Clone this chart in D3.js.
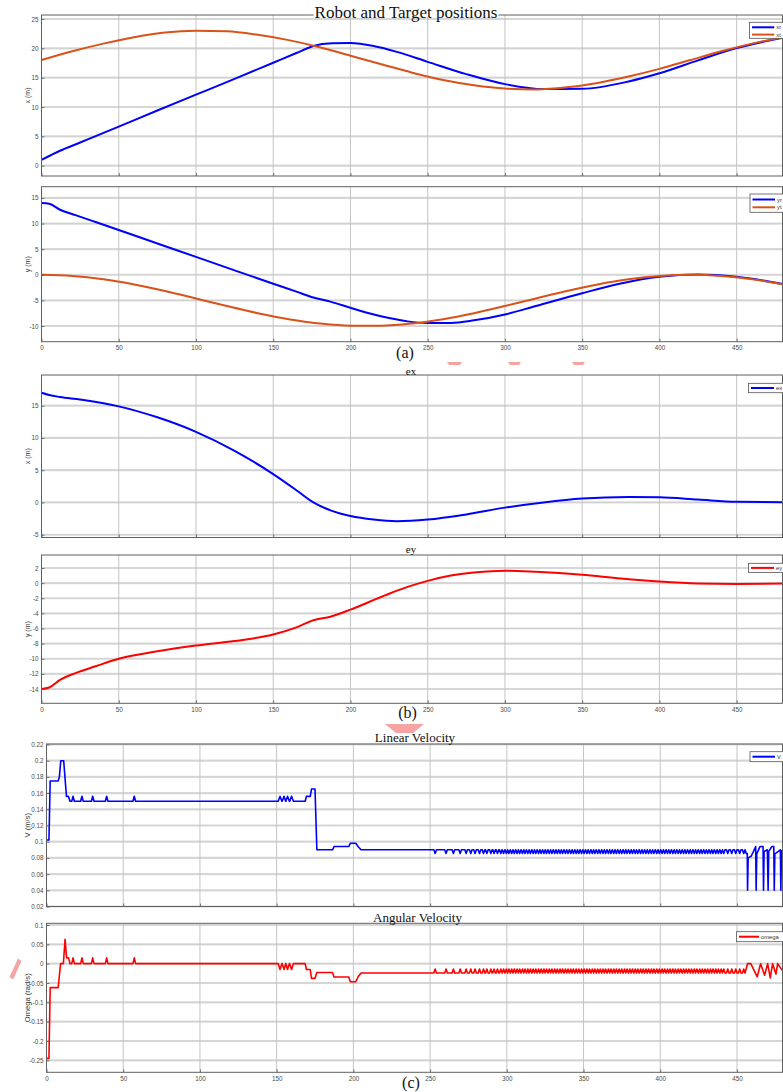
<!DOCTYPE html>
<html>
<head>
<meta charset="utf-8">
<script src="https://cdn.jsdelivr.net/npm/d3@7"></script>
<style>
  body { margin: 0; background: #fff; }
  svg { display: block; }
</style>
</head>
<body>
<svg id="fig" width="783" height="1092"></svg>
<script>
// ---------- readings: robot (r) and target (t) positions ----------
const xtTime   = [0, 20, 40, 60, 80, 100, 120, 140, 160, 180, 200, 220, 240, 260, 280, 300, 320, 340, 360, 380, 400, 420, 440, 460, 480];
const xtValues = [18.0, 19.5, 20.8, 21.9, 22.7, 23.0, 22.9, 22.3, 21.4, 20.2, 18.75, 17.3, 15.85, 14.6, 13.7, 13.15, 13.0, 13.35, 14.1, 15.2, 16.5, 18.0, 19.5, 20.8, 21.9];

const xrTime   = [0, 5, 12, 25, 50, 75, 100, 125, 150, 165, 176, 188, 200, 215, 230, 250, 275, 300, 325, 350, 380, 400, 425, 450, 480];
const xrValues = [1.0, 1.65, 2.55, 3.95, 6.65, 9.4, 12.1, 14.8, 17.55, 19.2, 20.4, 20.85, 20.9, 20.4, 19.4, 17.7, 15.6, 13.9, 13.05, 13.1, 14.35, 15.75, 17.95, 20.05, 21.8];

const ytTime   = [0, 20, 40, 60, 80, 100, 120, 140, 160, 180, 200, 220, 240, 260, 280, 300, 320, 340, 360, 380, 400, 420, 440, 460, 480];
const ytValues = [0.0, -0.22, -0.87, -1.88, -3.17, -4.63, -6.11, -7.5, -8.67, -9.51, -9.94, -9.94, -9.51, -8.67, -7.5, -6.11, -4.63, -3.17, -1.88, -0.87, -0.22, 0.0, -0.22, -0.87, -1.88];

const yrTime   = [0, 5, 12, 22, 35, 50, 75, 100, 125, 150, 165, 176, 187, 200, 212, 225, 237, 250, 265, 280, 300, 320, 350, 375, 400, 425, 450, 480];
const yrValues = [14.0, 13.85, 12.7, 11.65, 10.3, 8.75, 6.1, 3.5, 0.85, -1.75, -3.3, -4.45, -5.25, -6.45, -7.5, -8.45, -9.1, -9.4, -9.4, -8.9, -7.75, -6.1, -3.6, -1.7, -0.4, 0.05, -0.4, -1.8];

// ---------- readings: tracking errors ----------
const exTime   = [0, 5, 12, 25, 50, 75, 100, 125, 150, 165, 176, 188, 200, 215, 230, 250, 275, 300, 325, 350, 380, 400, 425, 450, 480];
const exValues = [17.0, 16.65, 16.35, 15.95, 14.9, 13.2, 10.95, 8.0, 4.4, 1.9, 0.0, -1.3, -2.1, -2.65, -2.9, -2.65, -1.85, -0.8, 0.0, 0.6, 0.85, 0.8, 0.45, 0.1, 0.05];

const eyTime   = [0, 5, 12, 22, 35, 50, 75, 100, 125, 150, 165, 176, 187, 200, 212, 225, 237, 250, 265, 280, 300, 320, 350, 375, 400, 425, 450, 480];
const eyValues = [-14.0, -13.8, -12.8, -11.9, -11.0, -10.0, -9.0, -8.25, -7.65, -6.8, -5.85, -4.9, -4.45, -3.5, -2.5, -1.4, -0.5, 0.3, 1.0, 1.4, 1.65, 1.5, 1.1, 0.6, 0.2, -0.05, -0.1, -0.05];

// ---------- readings: control inputs (step levels as [t, value]) ----------
const vSteps = [
  [0, 0.102], [1.6, 0.102], [2.4, 0.175], [7.6, 0.175], [8.4, 0.18], [9.3, 0.2], [11.2, 0.2],
  [13.0, 0.156], [14.3, 0.156], [15.3, 0.15], [168.6, 0.15], [169.4, 0.156], [171.9, 0.156],
  [172.7, 0.165], [175.0, 0.165], [176.2, 0.09], [186.4, 0.09], [187.4, 0.094], [197.0, 0.094],
  [198.0, 0.098], [201.6, 0.098], [203.0, 0.094], [205.0, 0.09], [455.3, 0.09], [456.0, 0.0855],
  [456.7, 0.0855], [456.9, 0.04], [457.3, 0.08], [459.2, 0.082], [460.8, 0.088], [462.2, 0.094],
  [462.5, 0.04], [462.9, 0.085], [465.0, 0.094], [467.0, 0.094], [467.3, 0.04], [467.7, 0.088],
  [469.8, 0.09], [470.3, 0.04], [470.7, 0.088], [472.8, 0.094], [474.0, 0.094], [474.3, 0.04],
  [474.7, 0.085], [477.0, 0.088], [478.3, 0.09], [478.6, 0.04], [479.0, 0.088], [480, 0.09]
];
const omegaSteps = [
  [0, -0.245], [1.6, -0.245], [2.4, -0.062], [7.6, -0.062], [9.2, 0], [11.0, 0], [12.1, 0.063],
  [13.1, 0.015], [14.4, 0.015], [15.3, 0], [168.6, 0], [169.4, -0.015], [171.9, -0.015],
  [172.7, -0.038], [175.0, -0.038], [176.2, -0.023], [186.4, -0.023], [187.4, -0.0345],
  [197.0, -0.0345], [198.0, -0.0466], [201.6, -0.0466], [203.0, -0.0345], [205.0, -0.024],
  [455.2, -0.024], [456.9, 0], [459.0, 0], [463.2, -0.034], [465.4, 0], [468.0, -0.03], [470.0, 0],
  [471.7, -0.037], [473.2, 0], [475.4, -0.027], [476.5, 0], [480, -0.02]
];
// short blips on top of the step levels
const earlyBlipTimes = [17.3, 23.1, 30.1, 39.2, 57.2];
const midBlipTimes   = [152.2, 154.8, 157.1, 159.7];
const chatterTimes = [
  253.3, 260.4, 265.2, 269.6, 273.5, 276.5, 279.3, 282.2, 284.8, 287.0, 289.6, 291.7, 293.9, 296.1, 297.9,
  299.7, 301.4, 303.2, 304.9, 306.7, 308.4, 310.2, 311.9, 313.7, 315.4, 317.2, 318.9, 320.7, 322.4, 324.2,
  325.9, 327.7, 329.4, 331.2, 332.9, 334.7, 336.4, 338.2, 339.9, 341.7, 343.4, 345.2, 346.9, 348.7, 350.4,
  352.2, 353.9, 355.7, 357.4, 359.2, 360.9, 362.7, 364.4, 366.2, 367.9, 369.7, 371.4, 373.2, 374.9, 376.7,
  378.4, 380.2, 381.9, 383.7, 385.4, 387.2, 388.9, 390.7, 392.4, 394.2, 395.9, 397.7, 399.4, 401.2, 402.9,
  404.7, 406.4, 408.2, 409.9, 411.7, 413.4, 415.2, 416.9, 418.7, 420.4, 422.2, 423.9, 425.7, 427.4, 429.2,
  430.9, 432.7, 434.4, 436.2, 437.9, 439.7, 441.4, 444.0, 446.6, 449.2, 451.8, 454.4
];
const vBlipLevels     = { early: 0.156, mid: 0.156, chatter: 0.0855 };
const omegaBlipLevels = { early: 0.015, mid: -0.015, chatter: -0.014 };

// ---------- axis ticks ----------
const timeTicks   = [0, 50, 100, 150, 200, 250, 300, 350, 400, 450];
const xPosTicks   = [0, 5, 10, 15, 20, 25];
const yPosTicks   = [-10, -5, 0, 5, 10, 15];
const exTicks     = [-5, 0, 5, 10, 15];
const eyTicks     = [-14, -12, -10, -8, -6, -4, -2, 0, 2];
const vTicks      = [0.02, 0.04, 0.06, 0.08, 0.1, 0.12, 0.14, 0.16, 0.18, 0.2, 0.22];
const omegaTicks  = [-0.25, -0.2, -0.15, -0.1, -0.05, 0, 0.05, 0.1];

// ---------- drawing ----------
const BLUE = "#0000ff", ORANGE = "#d95319", RED = "#ff0000";
const SANS = "'Liberation Sans', Arial, sans-serif";
const SERIF = "'Liberation Serif', 'Times New Roman', serif";
const svg = d3.select("#fig");

const zip = (t, v) => t.map((d, i) => [d, v[i]]);

// step signal with triangular blips inserted on its current level
function signal(steps, blips) {
  const bis = d3.bisector(d => d[0]).right;
  const levelAt = t => {
    const i = bis(steps, t);
    const a = steps[i - 1], b = steps[i];
    if (!b) return a[1];
    return a[1] + (b[1] - a[1]) * (t - a[0]) / (b[0] - a[0]);
  };
  const pts = steps.map(d => d.slice());
  blips.forEach(([t, v, hw]) => {
    const base = levelAt(t);
    pts.push([t - hw, base], [t, v], [t + hw, base]);
  });
  return pts.sort((a, b) => a[0] - b[0]);
}
function blipList(levels) {
  return [
    ...earlyBlipTimes.map(t => [t, levels.early, 0.85]),
    ...midBlipTimes.map(t => [t, levels.mid, 1.2]),
    ...chatterTimes.map(t => [t, levels.chatter, 0.85])
  ];
}

const panels = [
  { top: 15, bottom: 176, left: 41.5, yDomain: [-1.755, 25.68], yTicks: xPosTicks, yTitle: "x (m)",
    xLabels: false, width: 2, curve: d3.curveMonotoneX,
    series: [{ name: "xr", color: BLUE, pts: zip(xrTime, xrValues) },
             { name: "xt", color: ORANGE, pts: zip(xtTime, xtValues) }],
    legend: { x: 749.5, y: 22.3, h: 16, rows: [27.3, 34.6], len: 22.3 } },
  { top: 186.7, bottom: 341.7, left: 41.5, yDomain: [-13.07, 17.2], yTicks: yPosTicks, yTitle: "y (m)",
    xLabels: true, width: 2, curve: d3.curveMonotoneX,
    series: [{ name: "yr", color: BLUE, pts: zip(yrTime, yrValues) },
             { name: "yt", color: ORANGE, pts: zip(ytTime, ytValues) }],
    legend: { x: 750, y: 194, h: 18.3, rows: [199.5, 207.3], len: 22.5 } },
  { top: 375, bottom: 537.5, left: 41.5, yDomain: [-5.43, 19.76], yTicks: exTicks, yTitle: "x (m)",
    xLabels: false, width: 2, curve: d3.curveMonotoneX, title: "ex", titleY: 374.5, titleX: 411, titleSize: 11,
    series: [{ name: "ex", color: BLUE, pts: zip(exTime, exValues) }],
    legend: { x: 748.5, y: 383.3, h: 9.4, rows: [388], len: 23 } },
  { top: 555, bottom: 703.3, left: 41.5, yDomain: [-15.89, 3.72], yTicks: eyTicks, yTitle: "y (m)",
    xLabels: true, width: 2, curve: d3.curveMonotoneX, title: "ey", titleY: 552.5, titleX: 411, titleSize: 11,
    series: [{ name: "ey", color: RED, pts: zip(eyTime, eyValues) }],
    legend: { x: 748.5, y: 563.3, h: 9.2, rows: [567.9], len: 23 } },
  { top: 744, bottom: 906.5, left: 46.5, yDomain: [0.02, 0.2206], yTicks: vTicks, yTitle: "V (m/s)",
    xLabels: false, width: 1.6, curve: d3.curveLinear, title: "Linear Velocity", titleY: 742, titleX: 415, titleSize: 13,
    series: [{ name: "V", color: BLUE, pts: signal(vSteps, blipList(vBlipLevels)) }],
    legend: { x: 750, y: 751.7, h: 10, rows: [756.7], len: 22.5 } },
  { top: 923.3, bottom: 1072.3, left: 46.5, yDomain: [-0.281, 0.1044], yTicks: omegaTicks, yTitle: "Omega (rad/s)",
    xLabels: true, width: 1.6, curve: d3.curveLinear, title: "Angular Velocity", titleY: 922, titleX: 417.5, titleSize: 13,
    series: [{ name: "omega", color: RED, pts: signal(omegaSteps, blipList(omegaBlipLevels)) }],
    legend: { x: 736.5, y: 931.7, h: 10, rows: [936.7], len: 20 } }
];

const RIGHT = 783;

panels.forEach((p, idx) => {
  const x = d3.scaleLinear().domain([0, 480]).range([p.left, RIGHT]);
  const y = d3.scaleLinear().domain(p.yDomain).range([p.bottom, p.top]);
  const g = svg.append("g");

  // grid
  g.append("g").selectAll("line").data(p.yTicks).join("line")
    .attr("x1", p.left).attr("x2", RIGHT)
    .attr("y1", d => y(d)).attr("y2", d => y(d))
    .attr("stroke", "#dcdcdc").attr("stroke-width", 2.2);
  g.append("g").selectAll("line").data(p.yTicks).join("line")
    .attr("x1", p.left).attr("x2", RIGHT)
    .attr("y1", d => y(d)).attr("y2", d => y(d))
    .attr("stroke", "#c9c9c9").attr("stroke-width", 0.6);
  g.append("g").selectAll("line").data(timeTicks).join("line")
    .attr("x1", d => x(d)).attr("x2", d => x(d))
    .attr("y1", p.top).attr("y2", p.bottom)
    .attr("stroke", "#c4c4c4").attr("stroke-width", 1);

  // series
  const clipId = "clip" + idx;
  g.append("clipPath").attr("id", clipId).append("rect")
    .attr("x", p.left).attr("y", p.top).attr("width", RIGHT - p.left).attr("height", p.bottom - p.top);
  const line = d3.line().x(d => x(d[0])).y(d => y(d[1])).curve(p.curve);
  p.series.forEach(s => {
    g.append("path").datum(s.pts)
      .attr("clip-path", `url(#${clipId})`)
      .attr("fill", "none").attr("stroke", s.color)
      .attr("stroke-width", p.width).attr("stroke-linejoin", "round")
      .attr("d", line);
  });

  // axes with inward ticks
  const yAxis = d3.axisLeft(y).tickValues(p.yTicks).tickFormat(d => String(d))
    .tickSizeInner(-3).tickSizeOuter(0).tickPadding(3);
  const ya = g.append("g").attr("transform", `translate(${p.left},0)`).call(yAxis);
  const xAxis = d3.axisBottom(x).tickValues(timeTicks)
    .tickFormat(p.xLabels ? (d => String(d)) : () => "")
    .tickSizeInner(-3).tickSizeOuter(0).tickPadding(4);
  const xa = g.append("g").attr("transform", `translate(0,${p.bottom})`).call(xAxis);
  [ya, xa].forEach(a => {
    a.select(".domain").remove();
    a.selectAll(".tick line").attr("stroke", "#555").attr("stroke-width", 0.8);
    a.selectAll("text").attr("fill", "#4a4a4a").style("font-family", SANS).style("font-size", "6.3px");
  });

  // box
  g.append("rect").attr("x", p.left).attr("y", p.top)
    .attr("width", RIGHT - p.left - 0.5).attr("height", p.bottom - p.top)
    .attr("fill", "none").attr("stroke", "#5f5f5f").attr("stroke-width", 1);

  // y title
  g.append("text")
    .attr("transform", `translate(${idx >= 4 ? 28 : 28.5},${(p.top + p.bottom) / 2}) rotate(-90)`)
    .attr("text-anchor", "middle").attr("dominant-baseline", "middle")
    .style("font-family", SANS).style("font-size", idx >= 4 ? "7.6px" : "7px").attr("fill", "#333")
    .text(p.yTitle);

  // panel title
  if (p.title) {
    g.append("text").attr("x", p.titleX).attr("y", p.titleY).attr("text-anchor", "middle")
      .style("font-family", SERIF).style("font-size", p.titleSize + "px").attr("fill", "#111")
      .text(p.title);
  }

  // legend
  const L = p.legend;
  const lg = g.append("g");
  lg.append("rect").attr("x", L.x).attr("y", L.y).attr("width", RIGHT - L.x + 4).attr("height", L.h)
    .attr("fill", "#fff").attr("stroke", "#555").attr("stroke-width", 0.8);
  p.series.forEach((s, i) => {
    const ry = L.rows[i];
    lg.append("line").attr("x1", L.x + 2.5).attr("x2", L.x + 2.5 + L.len)
      .attr("y1", ry).attr("y2", ry).attr("stroke", s.color).attr("stroke-width", 2);
    lg.append("text").attr("x", L.x + 4.5 + L.len).attr("y", ry + 2)
      .style("font-family", SANS).style("font-size", "5.8px").attr("fill", "#333").text(s.name);
  });
});

// main title sitting over the first axes' top edge
const titleBg = svg.append("rect").attr("fill", "#fff");
const mainTitle = svg.append("text").attr("x", 406).attr("y", 18).attr("text-anchor", "middle")
  .style("font-family", SERIF).style("font-size", "17px").attr("fill", "#111")
  .text("Robot and Target positions");
const bb = mainTitle.node().getBBox();
titleBg.attr("x", bb.x - 1).attr("y", 13).attr("width", bb.width + 2).attr("height", 4);

// sub-figure captions
[["(a)", 405, 357.5], ["(b)", 407.5, 717.5], ["(c)", 411, 1087.5]].forEach(([s, cx, cy]) => {
  svg.append("text").attr("x", cx).attr("y", cy).attr("text-anchor", "middle")
    .style("font-family", SERIF).style("font-size", "16px").attr("fill", "#111").text(s);
});

// pink highlight marks
const pink = "#f5a3a3";
[
  [[447, 362], [462, 362], [460, 365], [449, 365]],
  [[508, 362], [521, 362], [519, 365], [510, 365]],
  [[572, 362], [585, 362], [583, 365], [574, 365]],
  [[385, 724], [424, 724], [413, 733], [396, 733]],
  [[18, 958.5], [21.5, 961], [13, 979.5], [9.5, 977]]
].forEach(poly => {
  svg.append("polygon").attr("points", poly.map(d => d.join(",")).join(" ")).attr("fill", pink);
});
</script>
</body>
</html>
